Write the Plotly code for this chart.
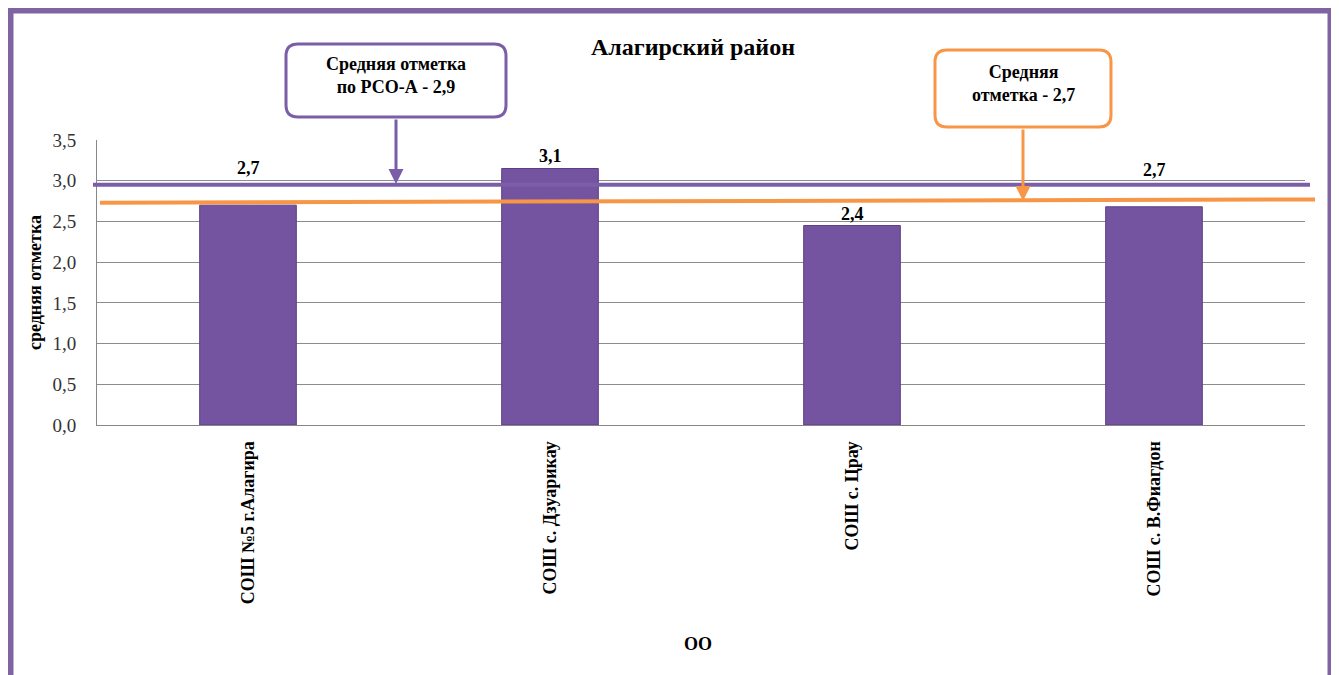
import plotly.graph_objects as go

# ---- data ----
categories = ["СОШ №5 г.Алагира", "СОШ с. Дзуарикау", "СОШ с. Црау", "СОШ с. В.Фиагдон"]
values = [2.70, 3.15, 2.45, 2.68]
value_labels = ["2,7", "3,1", "2,4", "2,7"]
region_avg_label = "Средняя отметка<br>по РСО-А - 2,9"
district_avg_label = "Средняя<br>отметка - 2,7"
region_line_y = [2.95, 2.95]      # as drawn in picture
district_line_y = [2.73, 2.77]    # as drawn in picture (slightly slanted)
y_ticks = [0, 0.5, 1.0, 1.5, 2.0, 2.5, 3.0, 3.5]

# ---- layout geometry (reference-pixel coordinates; page body has 8px margin) ----
OFF = 8
W, H = 1339 - OFF, 675 - OFF
L, R, T, B = 97, 1305, 140, 425
PW, PH = R - L, B - T

def px(x):
    return (x - L) / PW

def py(y):
    return (B - y) / PH

SERIF = "Liberation Serif"
PURPLE = "#7b5ea7"
ORANGE = "#f79646"

fig = go.Figure()
fig.add_trace(go.Bar(
    x=categories, y=values,
    marker=dict(color="#7454a0", line=dict(color="#5d3f86", width=1)),
    width=0.32, hoverinfo="skip",
))

def rounded_rect(x0, y0, x1, y1, r):
    def P(x, y):
        return f"{px(x):.5f},{py(y):.5f}"
    return (f"M {P(x0 + r, y0)} L {P(x1 - r, y0)} Q {P(x1, y0)} {P(x1, y0 + r)} "
            f"L {P(x1, y1 - r)} Q {P(x1, y1)} {P(x1 - r, y1)} "
            f"L {P(x0 + r, y1)} Q {P(x0, y1)} {P(x0, y1 - r)} "
            f"L {P(x0, y0 + r)} Q {P(x0, y0)} {P(x0 + r, y0)} Z")

shapes = [
    dict(type="rect", xref="paper", yref="paper",
         x0=px(10.5), x1=px(1330.5), y0=py(720), y1=py(10.5),
         line=dict(color="#8064a2", width=6), layer="below"),
    dict(type="line", xref="paper", yref="y", x0=px(93), x1=px(1310),
         y0=region_line_y[0], y1=region_line_y[1],
         line=dict(color=PURPLE, width=4)),
    dict(type="line", xref="paper", yref="y", x0=px(100), x1=px(1315),
         y0=district_line_y[0], y1=district_line_y[1],
         line=dict(color=ORANGE, width=4)),
    dict(type="path", xref="paper", yref="paper", path=rounded_rect(286, 44, 506, 117, 12),
         fillcolor="white", line=dict(color=PURPLE, width=3)),
    dict(type="path", xref="paper", yref="paper", path=rounded_rect(935, 50, 1111, 127, 12),
         fillcolor="white", line=dict(color=ORANGE, width=3)),
]

def txt(text, x, y, size=18, weight="bold"):
    return dict(text=text, x=px(x), y=py(y), xref="paper", yref="paper",
                xanchor="center", yanchor="middle", align="center", showarrow=False,
                font=dict(family=SERIF, size=size, color="black", weight=weight))

annotations = [
    txt("Алагирский район", 693, 47, size=24),
    txt(region_avg_label, 396, 76, size=18),
    txt(district_avg_label, 1023, 83, size=18),
    txt("ОО", 698, 644, size=18),
    dict(text="", x=px(396), y=py(184), xref="paper", yref="paper",
         showarrow=True, ax=0, ay=-(184 - 118), arrowhead=2, arrowsize=1, arrowwidth=3,
         arrowcolor=PURPLE),
    dict(text="", x=px(1023), y=py(201), xref="paper", yref="paper",
         showarrow=True, ax=0, ay=-(201 - 128), arrowhead=2, arrowsize=1, arrowwidth=3,
         arrowcolor=ORANGE),
]

label_shift = [37, 13, 12, 37]
for c, v, t, s in zip(categories, values, value_labels, label_shift):
    annotations.append(dict(text=t, x=c, y=v, xref="x", yref="y",
                            yshift=s, yanchor="middle", showarrow=False,
                            font=dict(family=SERIF, size=18, color="black", weight="bold")))

fig.update_layout(
    width=W, height=H,
    margin=dict(l=L - OFF, r=W - (R - OFF), t=T - OFF, b=H - (B - OFF), pad=0),
    paper_bgcolor="white", plot_bgcolor="white",
    separators=", ",
    showlegend=False,
    shapes=shapes, annotations=annotations,
    xaxis=dict(
        tickangle=-90, showgrid=False, showline=True, linecolor="#888888", linewidth=1,
        tickfont=dict(family=SERIF, size=18, color="black", weight="bold"),
        ticklabelstandoff=8,
        range=[-0.5, 3.5], fixedrange=True,
    ),
    yaxis=dict(
        range=[0, 3.5], tickvals=y_ticks, tickformat=".1f",
        showgrid=True, gridcolor="#8c8c8c", gridwidth=1,
        showline=True, linecolor="#888888", linewidth=1, zeroline=False,
        tickfont=dict(family=SERIF, size=19, color="#333333"),
        ticklabelstandoff=16,
        title=dict(text="средняя отметка",
                   font=dict(family=SERIF, size=18, color="black", weight="bold"),
                   standoff=6),
        fixedrange=True,
    ),
)

fig.write_html("out.html")
